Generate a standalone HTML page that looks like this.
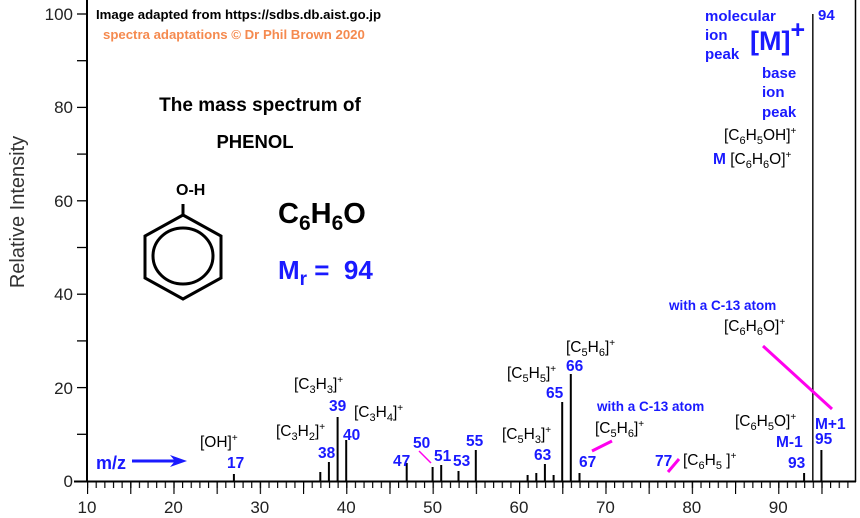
<!DOCTYPE html>
<html><head><meta charset="utf-8"><style>
html,body{margin:0;padding:0;background:#fff;}
svg{display:block;font-family:"Liberation Sans",sans-serif;}
.b{font-weight:bold;fill:#1a1aff;}
.k{fill:#000;font-size:15.5px;}
.n{font-weight:bold;fill:#1a1aff;font-size:15.5px;}
</style></head><body>
<svg width="860" height="518" viewBox="0 0 860 518" xmlns="http://www.w3.org/2000/svg">
<defs>
<pattern id="tk" x="87" y="0" width="8.64" height="518" patternUnits="userSpaceOnUse">
<line x1="0.5" y1="481" x2="0.5" y2="488" stroke="#000" stroke-width="1.3"/>
</pattern>
<pattern id="tk5" x="87" y="0" width="43.2" height="518" patternUnits="userSpaceOnUse">
<line x1="0.5" y1="481" x2="0.5" y2="494" stroke="#000" stroke-width="1.3"/>
</pattern>
</defs>
<rect x="0" y="0" width="860" height="518" fill="#fff"/>
<line x1="87" y1="0" x2="87" y2="482" stroke="#000" stroke-width="2"/>
<line x1="74" y1="481.5" x2="856" y2="481.5" stroke="#000" stroke-width="2"/>
<line x1="855.5" y1="0" x2="855.5" y2="482" stroke="#000" stroke-width="1.5"/>
<rect x="87" y="480" width="768" height="16" fill="url(#tk)"/>
<rect x="87" y="480" width="768" height="16" fill="url(#tk5)"/>
<g stroke="#000" stroke-width="1.3">
<line x1="77" y1="14" x2="87" y2="14"/><line x1="77" y1="60.7" x2="87" y2="60.7"/>
<line x1="77" y1="107.4" x2="87" y2="107.4"/><line x1="77" y1="154.1" x2="87" y2="154.1"/>
<line x1="77" y1="200.8" x2="87" y2="200.8"/><line x1="77" y1="247.5" x2="87" y2="247.5"/>
<line x1="77" y1="294.2" x2="87" y2="294.2"/><line x1="77" y1="340.9" x2="87" y2="340.9"/>
<line x1="77" y1="387.6" x2="87" y2="387.6"/><line x1="77" y1="434.3" x2="87" y2="434.3"/>
</g>
<g font-size="17" fill="#222" text-anchor="end">
<text x="73" y="20">100</text><text x="73" y="113">80</text><text x="73" y="207">60</text>
<text x="73" y="300">40</text><text x="73" y="394">20</text><text x="73" y="487">0</text>
</g>
<text transform="translate(24,212) rotate(-90)" text-anchor="middle" font-size="20" fill="#333">Relative Intensity</text>
<g font-size="17" fill="#222" text-anchor="middle">
<text x="87" y="513">10</text><text x="173.4" y="513">20</text><text x="259.8" y="513">30</text>
<text x="346.2" y="513">40</text><text x="432.6" y="513">50</text><text x="519" y="513">60</text>
<text x="605.4" y="513">70</text><text x="691.8" y="513">80</text><text x="778.2" y="513">90</text>
</g>
<g stroke="#000" stroke-width="2">
<line x1="812.8" y1="14" x2="812.8" y2="481" stroke="#222" stroke-width="1.6"/>
<line x1="570.8" y1="374" x2="570.8" y2="481"/>
<line x1="562.2" y1="402" x2="562.2" y2="481"/>
<line x1="337.6" y1="417" x2="337.6" y2="481"/>
<line x1="346.2" y1="440" x2="346.2" y2="481"/>
<line x1="328.9" y1="462" x2="328.9" y2="481"/>
<line x1="320.3" y1="472" x2="320.3" y2="481"/>
<line x1="544.9" y1="464" x2="544.9" y2="481"/>
<line x1="536.3" y1="473" x2="536.3" y2="481"/>
<line x1="527.6" y1="475" x2="527.6" y2="481"/>
<line x1="553.6" y1="475" x2="553.6" y2="481"/>
<line x1="475.8" y1="450" x2="475.8" y2="481"/>
<line x1="441.2" y1="465" x2="441.2" y2="481"/>
<line x1="458.5" y1="471" x2="458.5" y2="481"/>
<line x1="432.6" y1="467" x2="432.6" y2="481"/>
<line x1="406.7" y1="463" x2="406.7" y2="481"/>
<line x1="804.1" y1="473" x2="804.1" y2="481"/>
<line x1="821.4" y1="450" x2="821.4" y2="481"/>
<line x1="579.5" y1="473" x2="579.5" y2="481"/>
<line x1="233.9" y1="474" x2="233.9" y2="481"/>
</g>
<text x="96" y="19" font-size="13.2" font-weight="bold" fill="#000">Image adapted from https://sdbs.db.aist.go.jp</text>
<text x="103" y="39" font-size="13.2" font-weight="bold" fill="#f58a4f">spectra adaptations © Dr Phil Brown 2020</text>
<text x="260" y="111" font-size="19" font-weight="bold" text-anchor="middle">The mass spectrum of</text>
<text x="255" y="148" font-size="18.5" font-weight="bold" text-anchor="middle">PHENOL</text>
<polygon points="183,215 221,236 221,278 183,299 145,278 145,236" fill="none" stroke="#000" stroke-width="3"/>
<ellipse cx="183" cy="256" rx="30" ry="28" fill="none" stroke="#000" stroke-width="3"/>
<line x1="183" y1="215" x2="183" y2="204" stroke="#000" stroke-width="3"/>
<text x="176" y="195" font-size="16" font-weight="bold">O-H</text>
<text x="278" y="223" font-size="29" font-weight="bold">C<tspan font-size="21" dy="7">6</tspan><tspan dy="-7">H</tspan><tspan font-size="21" dy="7">6</tspan><tspan dy="-7">O</tspan></text>
<text x="278" y="279" font-size="26" class="b" xml:space="preserve">M<tspan font-size="19" dy="6">r</tspan><tspan dy="-6"> =  94</tspan></text>
<g class="b" font-size="15">
<text x="705" y="21">molecular</text><text x="705" y="40">ion</text><text x="705" y="59">peak</text>
<text x="762" y="78">base</text><text x="762" y="97">ion</text><text x="762" y="117">peak</text>
<text x="818" y="20">94</text>
</g>
<text x="750" y="50" font-size="27" class="b">[M]<tspan font-size="25" dy="-12">+</tspan></text>
<text x="724" y="140" class="k">[C<tspan font-size="11" dy="4">6</tspan><tspan dy="-4">H</tspan><tspan font-size="11" dy="4">5</tspan><tspan dy="-4">OH]</tspan><tspan font-size="10" dy="-6">+</tspan></text>
<text x="713" y="164" class="k"><tspan class="b">M </tspan>[C<tspan font-size="11" dy="4">6</tspan><tspan dy="-4">H</tspan><tspan font-size="11" dy="4">6</tspan><tspan dy="-4">O]</tspan><tspan font-size="10" dy="-6">+</tspan></text>
<text x="669" y="310" class="b" font-size="13.5">with a C-13 atom</text>
<text x="724" y="331" class="k">[C<tspan font-size="11" dy="4">6</tspan><tspan dy="-4">H</tspan><tspan font-size="11" dy="4">6</tspan><tspan dy="-4">O]</tspan><tspan font-size="10" dy="-6">+</tspan></text>
<g stroke="#ff00ee" stroke-width="3">
<line x1="763" y1="346" x2="832" y2="409"/>
<line x1="592" y1="451" x2="612" y2="441"/>
<line x1="668" y1="472" x2="679" y2="459"/>
<line x1="419" y1="451" x2="431" y2="463" stroke-width="1.5"/>
</g>
<text x="566" y="352" class="k">[C<tspan font-size="11" dy="4">5</tspan><tspan dy="-4">H</tspan><tspan font-size="11" dy="4">6</tspan><tspan dy="-4">]</tspan><tspan font-size="10" dy="-6">+</tspan></text>
<text x="566" y="371" class="n">66</text>
<text x="507" y="378" class="k">[C<tspan font-size="11" dy="4">5</tspan><tspan dy="-4">H</tspan><tspan font-size="11" dy="4">5</tspan><tspan dy="-4">]</tspan><tspan font-size="10" dy="-6">+</tspan></text>
<text x="546" y="398" class="n">65</text>
<text x="502" y="439" class="k">[C<tspan font-size="11" dy="4">5</tspan><tspan dy="-4">H</tspan><tspan font-size="11" dy="4">3</tspan><tspan dy="-4">]</tspan><tspan font-size="10" dy="-6">+</tspan></text>
<text x="534" y="460" class="n">63</text>
<text x="466" y="446" class="n">55</text>
<text x="434" y="461" class="n">51</text>
<text x="453" y="466" class="n">53</text>
<text x="597" y="411" class="b" font-size="13.5">with a C-13 atom</text>
<text x="595" y="433" class="k">[C<tspan font-size="11" dy="4">5</tspan><tspan dy="-4">H</tspan><tspan font-size="11" dy="4">6</tspan><tspan dy="-4">]</tspan><tspan font-size="10" dy="-6">+</tspan></text>
<text x="579" y="467" class="n">67</text>
<text x="655" y="466" class="n">77</text>
<text x="683" y="465" class="k">[C<tspan font-size="11" dy="4">6</tspan><tspan dy="-4">H</tspan><tspan font-size="11" dy="4">5</tspan><tspan dy="-4"> ]</tspan><tspan font-size="10" dy="-6">+</tspan></text>
<text x="735" y="426" class="k">[C<tspan font-size="11" dy="4">6</tspan><tspan dy="-4">H</tspan><tspan font-size="11" dy="4">5</tspan><tspan dy="-4">O]</tspan><tspan font-size="10" dy="-6">+</tspan></text>
<text x="776" y="447" class="n">M-1</text>
<text x="788" y="468" class="n">93</text>
<text x="815" y="429" class="n">M+1</text>
<text x="815" y="444" class="n">95</text>
<text x="200" y="447" class="k">[OH]<tspan font-size="10" dy="-6">+</tspan></text>
<text x="227" y="468" class="n">17</text>
<text x="96" y="469" class="b" font-size="18">m/z</text>
<line x1="132" y1="461" x2="178" y2="461" stroke="#1a1aff" stroke-width="3"/>
<polygon points="187,461 170,455 175,461 170,467" fill="#1a1aff"/>
<text x="294" y="389" class="k">[C<tspan font-size="11" dy="4">3</tspan><tspan dy="-4">H</tspan><tspan font-size="11" dy="4">3</tspan><tspan dy="-4">]</tspan><tspan font-size="10" dy="-6">+</tspan></text>
<text x="329" y="411" class="n">39</text>
<text x="354" y="417" class="k">[C<tspan font-size="11" dy="4">3</tspan><tspan dy="-4">H</tspan><tspan font-size="11" dy="4">4</tspan><tspan dy="-4">]</tspan><tspan font-size="10" dy="-6">+</tspan></text>
<text x="276" y="436" class="k">[C<tspan font-size="11" dy="4">3</tspan><tspan dy="-4">H</tspan><tspan font-size="11" dy="4">2</tspan><tspan dy="-4">]</tspan><tspan font-size="10" dy="-6">+</tspan></text>
<text x="343" y="440" class="n">40</text>
<text x="318" y="458" class="n">38</text>
<text x="393" y="466" class="n">47</text>
<text x="413" y="448" class="n">50</text>
</svg>
</body></html>
